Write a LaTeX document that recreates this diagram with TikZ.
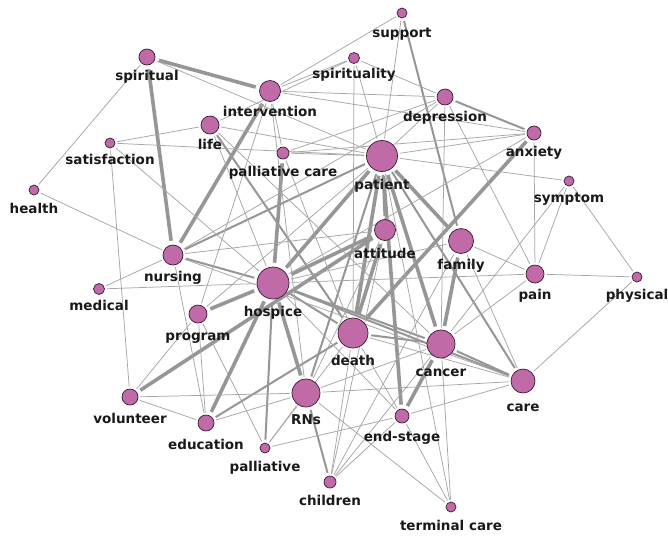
\documentclass[tikz,border=0pt]{standalone}
\usepackage{fontspec}
\setmainfont{DejaVu Sans}
\usetikzlibrary{positioning,backgrounds}

\definecolor{termfill}{RGB}{192,106,168}
\definecolor{termline}{RGB}{55,25,50}
\definecolor{linkgray}{RGB}{150,150,150}

\begin{document}
\begin{tikzpicture}[x=1pt,y=-1pt]
    % Define styles
    \tikzstyle{term} = [circle, draw=termline, fill=termfill, line width=0.7pt, inner sep=0pt]
    \tikzstyle{lbl} = [font=\fontsize{13.5}{14}\selectfont\bfseries, inner sep=1pt, anchor=base, text=black!90]
    \tikzstyle{wk} = [draw=linkgray!85, line width=0.75pt, shorten <=2pt, shorten >=2pt]
    \tikzstyle{md} = [draw=linkgray, line width=2pt, shorten <=3pt, shorten >=3pt]
    \tikzstyle{tk} = [draw=linkgray, line width=3.6pt, shorten <=4pt, shorten >=4pt]

    \useasboundingbox (0,0) rectangle (668,539);

    % Terms
    \node[term, minimum size=10pt] (support) at (402,13) {};
    \node[term, minimum size=11pt] (spirity) at (354,58) {};
    \node[term, minimum size=16pt] (spiritual) at (147,57) {};
    \node[term, minimum size=21pt] (interv) at (270,91) {};
    \node[term, minimum size=16pt] (depress) at (445,97) {};
    \node[term, minimum size=14pt] (anxiety) at (534,133) {};
    \node[term, minimum size=18pt] (life) at (210,125) {};
    \node[term, minimum size=10pt] (satisf) at (110,143) {};
    \node[term, minimum size=12pt] (palcare) at (283,153) {};
    \node[term, minimum size=31pt] (patient) at (382,156) {};
    \node[term, minimum size=10pt] (symptom) at (569,181) {};
    \node[term, minimum size=10pt] (health) at (34,190) {};
    \node[term, minimum size=21pt] (attitude) at (385,230) {};
    \node[term, minimum size=25pt] (family) at (461,241) {};
    \node[term, minimum size=20pt] (nursing) at (173,255) {};
    \node[term, minimum size=32pt] (hospice) at (273,283) {};
    \node[term, minimum size=18pt] (pain) at (535,274) {};
    \node[term, minimum size=10pt] (physical) at (637,277) {};
    \node[term, minimum size=11pt] (medical) at (99,289) {};
    \node[term, minimum size=18pt] (program) at (198,314) {};
    \node[term, minimum size=30pt] (death) at (353,333) {};
    \node[term, minimum size=28pt] (cancer) at (441,344) {};
    \node[term, minimum size=24pt] (care) at (523,381) {};
    \node[term, minimum size=16pt] (volunteer) at (130,397) {};
    \node[term, minimum size=16pt] (educ) at (206,423) {};
    \node[term, minimum size=28pt] (RNs) at (306,393) {};
    \node[term, minimum size=14pt] (endstage) at (402,416) {};
    \node[term, minimum size=10pt] (palliative) at (265,448) {};
    \node[term, minimum size=12pt] (children) at (330,482) {};
    \node[term, minimum size=10pt] (termcare) at (451,507) {};

    % Labels
    \node[below=19pt of support.south, lbl] (support-l) {support};
    \node[below=15pt of spirity.south, lbl] (spirity-l) {spirituality};
    \node[below=15pt of spiritual.south, lbl] (spiritual-l) {spiritual};
    \node[below=15pt of interv.south, lbl] (interv-l) {intervention};
    \node[below=16pt of depress.south, lbl] (depress-l) {depression};
    \node[below=16pt of anxiety.south, lbl] (anxiety-l) {anxiety};
    \node[below=15pt of life.south, lbl] (life-l) {life};
    \node[below=16pt of satisf.south, lbl] (satisf-l) {satisfaction};
    \node[below=17pt of palcare.south, lbl] (palcare-l) {palliative care};
    \node[below=18pt of patient.south, lbl] (patient-l) {patient};
    \node[below=16pt of symptom.south, lbl] (symptom-l) {symptom};
    \node[below=18pt of health.south, lbl] (health-l) {health};
    \node[below=18pt of attitude.south, lbl] (attitude-l) {attitude};
    \node[below=16pt of family.south, lbl] (family-l) {family};
    \node[below=16pt of nursing.south, lbl] (nursing-l) {nursing};
    \node[below=17pt of hospice.south, lbl] (hospice-l) {hospice};
    \node[below=16pt of pain.south, lbl] (pain-l) {pain};
    \node[below=17pt of physical.south, lbl] (physical-l) {physical};
    \node[below=16pt of medical.south, lbl] (medical-l) {medical};
    \node[below=17pt of program.south, lbl] (program-l) {program};
    \node[below=17pt of death.south, lbl] (death-l) {death};
    \node[below=18pt of cancer.south, lbl] (cancer-l) {cancer};
    \node[below=18pt of care.south, lbl] (care-l) {care};
    \node[below=18pt of volunteer.south, lbl] (volunteer-l) {volunteer};
    \node[below=18pt of educ.south, lbl] (educ-l) {education};
    \node[below=17pt of RNs.south, lbl] (RNs-l) {RNs};
    \node[below=18pt of endstage.south, lbl] (endstage-l) {end-stage};
    \node[below=18pt of palliative.south, lbl] (palliative-l) {palliative};
    \node[below=17pt of children.south, lbl] (children-l) {children};
    \node[below=18pt of termcare.south, lbl] (termcare-l) {terminal care};

    \begin{scope}[on background layer]
    \fill[white] (0,0) rectangle (668,539);
    % Strong links
    \draw[tk] (spiritual) -- (interv);
    \draw[tk] (spiritual) -- (nursing);
    \draw[tk] (interv) -- (nursing);
    \draw[tk] (palcare) -- (hospice);
    \draw[tk] (hospice) -- (patient);
    \draw[tk] (hospice) -- (program);
    \draw[tk] (hospice) -- (educ);
    \draw[tk] (hospice) -- (RNs);
    \draw[tk] (hospice) -- (attitude);
    \draw[tk] (volunteer) -- (attitude);
    \draw[tk] (patient) -- (death);
    \draw[tk] (patient) -- (cancer);
    \draw[tk] (patient) -- (endstage);
    \draw[tk] (patient) -- (family);
    \draw[tk] (attitude) -- (death);
    \draw[tk] (family) -- (cancer);
    \draw[tk] (cancer) -- (endstage);
    \draw[tk] (anxiety) -- (death);

    % Medium links
    \draw[md] (life) -- (death);
    \draw[md] (nursing) -- (patient);
    \draw[md] (nursing) -- (hospice);
    \draw[md] (depress) -- (anxiety);
    \draw[md] (support) -- (family);
    \draw[md] (RNs) -- (children);
    \draw[md] (patient) -- (care);
    \draw[md] (patient) -- (attitude);
    \draw[md] (patient) -- (RNs);
    \draw[md] (hospice) -- (cancer);
    \draw[md] (hospice) -- (care);
    \draw[md] (hospice) -- (palliative);
    \draw[md] (hospice) -- (death);
    \draw[md] (death) -- (cancer);
    \draw[md] (educ) -- (death);
    \draw[md] (cancer) -- (care);

    % Weak links
    \draw[wk] (spiritual) -- (health);
    \draw[wk] (spiritual) -- (patient);
    \draw[wk] (interv) -- (spirity);
    \draw[wk] (interv) -- (depress);
    \draw[wk] (interv) -- (anxiety);
    \draw[wk] (interv) -- (palcare);
    \draw[wk] (interv) -- (program);
    \draw[wk] (interv) -- (RNs);
    \draw[wk] (support) -- (interv);
    \draw[wk] (support) -- (patient);
    \draw[wk] (spirity) -- (depress);
    \draw[wk] (spirity) -- (patient);
    \draw[wk] (spirity) -- (death);
    \draw[wk] (spirity) -- (life);
    \draw[wk] (life) -- (satisf);
    \draw[wk] (life) -- (patient);
    \draw[wk] (life) -- (cancer);
    \draw[wk] (life) -- (hospice);
    \draw[wk] (satisf) -- (patient);
    \draw[wk] (satisf) -- (volunteer);
    \draw[wk] (satisf) -- (hospice);
    \draw[wk] (health) -- (nursing);
    \draw[wk] (palcare) -- (patient);
    \draw[wk] (palcare) -- (depress);
    \draw[wk] (palcare) -- (death);
    \draw[wk] (palcare) -- (anxiety);
    \draw[wk] (nursing) -- (medical);
    \draw[wk] (nursing) -- (educ);
    \draw[wk] (nursing) -- (attitude);
    \draw[wk] (nursing) -- (care);
    \draw[wk] (nursing) -- (depress);
    \draw[wk] (medical) -- (hospice);
    \draw[wk] (program) -- (volunteer);
    \draw[wk] (program) -- (educ);
    \draw[wk] (program) -- (palliative);
    \draw[wk] (program) -- (patient);
    \draw[wk] (volunteer) -- (educ);
    \draw[wk] (volunteer) -- (RNs);
    \draw[wk] (educ) -- (RNs);
    \draw[wk] (RNs) -- (care);
    \draw[wk] (RNs) -- (cancer);
    \draw[wk] (RNs) -- (termcare);
    \draw[wk] (death) -- (children);
    \draw[wk] (death) -- (care);
    \draw[wk] (death) -- (endstage);
    \draw[wk] (cancer) -- (pain);
    \draw[wk] (cancer) -- (termcare);
    \draw[wk] (cancer) -- (children);
    \draw[wk] (care) -- (family);
    \draw[wk] (care) -- (physical);
    \draw[wk] (care) -- (endstage);
    \draw[wk] (endstage) -- (children);
    \draw[wk] (endstage) -- (termcare);
    \draw[wk] (endstage) -- (hospice);
    \draw[wk] (endstage) -- (palliative);
    \draw[wk] (pain) -- (physical);
    \draw[wk] (pain) -- (family);
    \draw[wk] (pain) -- (symptom);
    \draw[wk] (pain) -- (anxiety);
    \draw[wk] (pain) -- (depress);
    \draw[wk] (pain) -- (hospice);
    \draw[wk] (symptom) -- (physical);
    \draw[wk] (symptom) -- (patient);
    \draw[wk] (symptom) -- (cancer);
    \draw[wk] (anxiety) -- (patient);
    \draw[wk] (anxiety) -- (hospice);
    \draw[wk] (depress) -- (patient);
    \draw[wk] (depress) -- (cancer);
    \draw[wk] (termcare) -- (patient);
    \draw[wk] (family) -- (hospice);
    \draw[wk] (family) -- (children);
    \draw[wk] (attitude) -- (RNs);
    \draw[wk] (attitude) -- (children);
    \draw[wk] (palliative) -- (death);
    \draw[wk] (palliative) -- (RNs);
    \end{scope}

\end{tikzpicture}
\end{document}
